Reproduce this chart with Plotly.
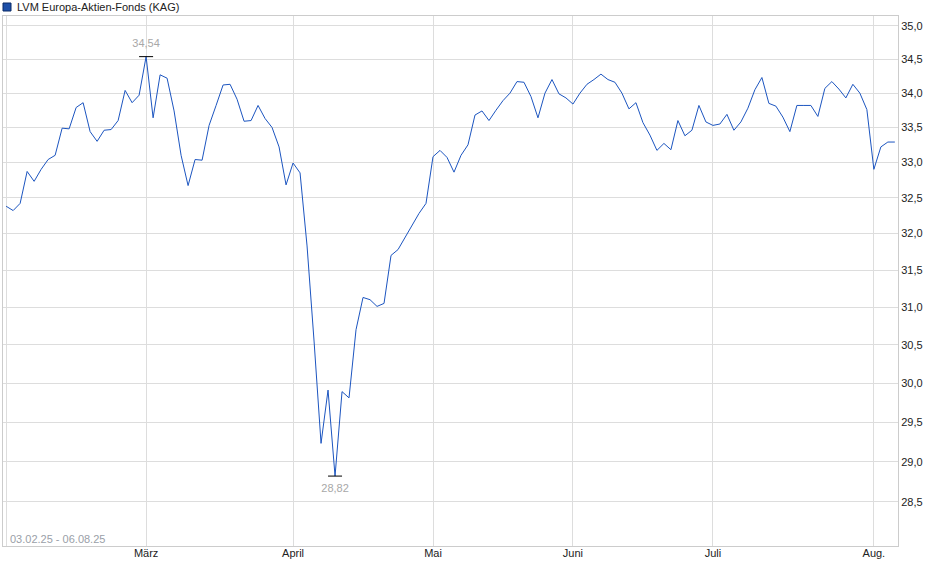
# LVM Europa-Aktien-Fonds (KAG) - Kursverlauf 03.02.25 - 06.08.25
import pandas as pd
import plotly.graph_objects as go

# Handelstage (ohne Feiertage)
holidays = ["2025-04-18", "2025-04-21", "2025-05-01", "2025-05-29", "2025-06-09"]
days = pd.bdate_range("2025-02-03", "2025-08-06")
days = [d.strftime("%Y-%m-%d") for d in days if d.strftime("%Y-%m-%d") not in holidays]

# Kurse
prices = [
    32.38, 32.32, 32.42, 32.87, 32.73, 32.90, 33.04, 33.10, 33.49, 33.48,
    33.79, 33.86, 33.44, 33.30, 33.46, 33.47, 33.60, 34.04, 33.86, 33.97,
    34.54, 33.64, 34.27, 34.22, 33.74, 33.10, 32.67, 33.04, 33.03, 33.53,
    33.82, 34.12, 34.13, 33.91, 33.59, 33.60, 33.82, 33.63, 33.50, 33.22,
    32.68, 32.99, 32.85, 31.83, 30.55, 29.23, 29.91, 28.82, 29.89, 29.81,
    30.70, 31.13, 31.10, 31.01, 31.05, 31.70, 31.78, 31.95, 32.12, 32.28,
    32.42, 33.08, 33.17, 33.07, 32.86, 33.10, 33.25, 33.68, 33.74, 33.60,
    33.75, 33.89, 34.00, 34.17, 34.16, 33.95, 33.64, 34.00, 34.20, 33.99,
    33.93, 33.84, 34.00, 34.13, 34.20, 34.28, 34.20, 34.16, 34.00, 33.77,
    33.86, 33.57, 33.39, 33.17, 33.27, 33.18, 33.60, 33.38, 33.46, 33.82,
    33.58, 33.53, 33.55, 33.69, 33.46, 33.58, 33.78, 34.05, 34.23, 33.85,
    33.81, 33.65, 33.44, 33.82, 33.82, 33.82, 33.66, 34.07, 34.17, 34.06,
    33.93, 34.13, 34.00, 33.76, 32.90, 33.22, 33.29, 33.29,
]

# Achsenbeschriftung
month_starts = ["2025-02-03", "2025-03-03", "2025-04-01", "2025-05-02",
                "2025-06-02", "2025-07-01", "2025-08-01"]
month_labels = ["", "März", "April", "Mai", "Juni", "Juli", "Aug."]
y_ticks = [28.5, 29.0, 29.5, 30.0, 30.5, 31.0, 31.5, 32.0, 32.5, 33.0, 33.5, 34.0, 34.5, 35.0]
y_labels = ["28,5", "29,0", "29,5", "30,0", "30,5", "31,0", "31,5",
            "32,0", "32,5", "33,0", "33,5", "34,0", "34,5", "35,0"]

i_max = prices.index(max(prices))
i_min = prices.index(min(prices))

fig = go.Figure()
fig.add_trace(go.Scatter(
    x=days, y=prices, mode="lines",
    line=dict(color="#1c55c0", width=1),
    hoverinfo="x+y", showlegend=False,
))
# Hoch / Tief Markierung
fig.add_trace(go.Scatter(
    x=[days[i_max], days[i_min]],
    y=[prices[i_max], prices[i_min]],
    mode="markers+text",
    marker=dict(symbol="line-ew", size=10, line=dict(color="black", width=1)),
    text=["34,54", "28,82"],
    textposition=["top center", "bottom center"],
    textfont=dict(color="#a8a8a8", size=11),
    showlegend=False, hoverinfo="skip",
))

fig.update_layout(
    width=940, height=579,
    margin=dict(l=3, r=42, t=16, b=33),
    paper_bgcolor="white", plot_bgcolor="white",
    font=dict(family="Liberation Sans, Arial, sans-serif", size=11, color="#222"),
    xaxis=dict(
        type="category",
        range=[-0.45, len(days) - 0.55],
        tickmode="array", tickvals=month_starts, ticktext=month_labels,
        showgrid=True, gridcolor="#dddddd", gridwidth=1,
        showline=True, linecolor="#cccccc", mirror=True,
        ticks="", tickfont=dict(size=11, color="#222"),
        ticklabelstandoff=-3,
        zeroline=False,
    ),
    yaxis=dict(
        type="log", side="right",
        range=[1.44659, 1.54594],
        tickmode="array", tickvals=y_ticks, ticktext=y_labels,
        showgrid=True, gridcolor="#dddddd", gridwidth=1,
        showline=True, linecolor="#cccccc", mirror=True,
        ticks="", tickfont=dict(size=11, color="#222"),
        zeroline=False,
    ),
    shapes=[dict(
        type="rect", xref="paper", yref="paper",
        x0=0.0, x1=8 / 895, y0=(546 - 11) / 530, y1=(546 - 3) / 530,
        fillcolor="#1d4fa8", line=dict(color="#0b2a66", width=1),
    )],
    annotations=[
        dict(text="LVM Europa-Aktien-Fonds (KAG)", xref="paper", yref="paper",
             x=12 / 895, y=(546 - 7) / 530, xanchor="left", yanchor="middle",
             showarrow=False, font=dict(size=11, color="#222")),
        dict(text="03.02.25 - 06.08.25", xref="paper", yref="paper",
             x=5 / 895, y=(546 - 539) / 530, xanchor="left", yanchor="middle",
             showarrow=False, font=dict(size=11, color="#9aa0a8")),
    ],
)

# Seitenrand des Browsers entfernen, damit die Grafik bei 0,0 beginnt
fig.write_html("out.html", config={"displayModeBar": False},
               post_script="document.body.style.margin='0';")
